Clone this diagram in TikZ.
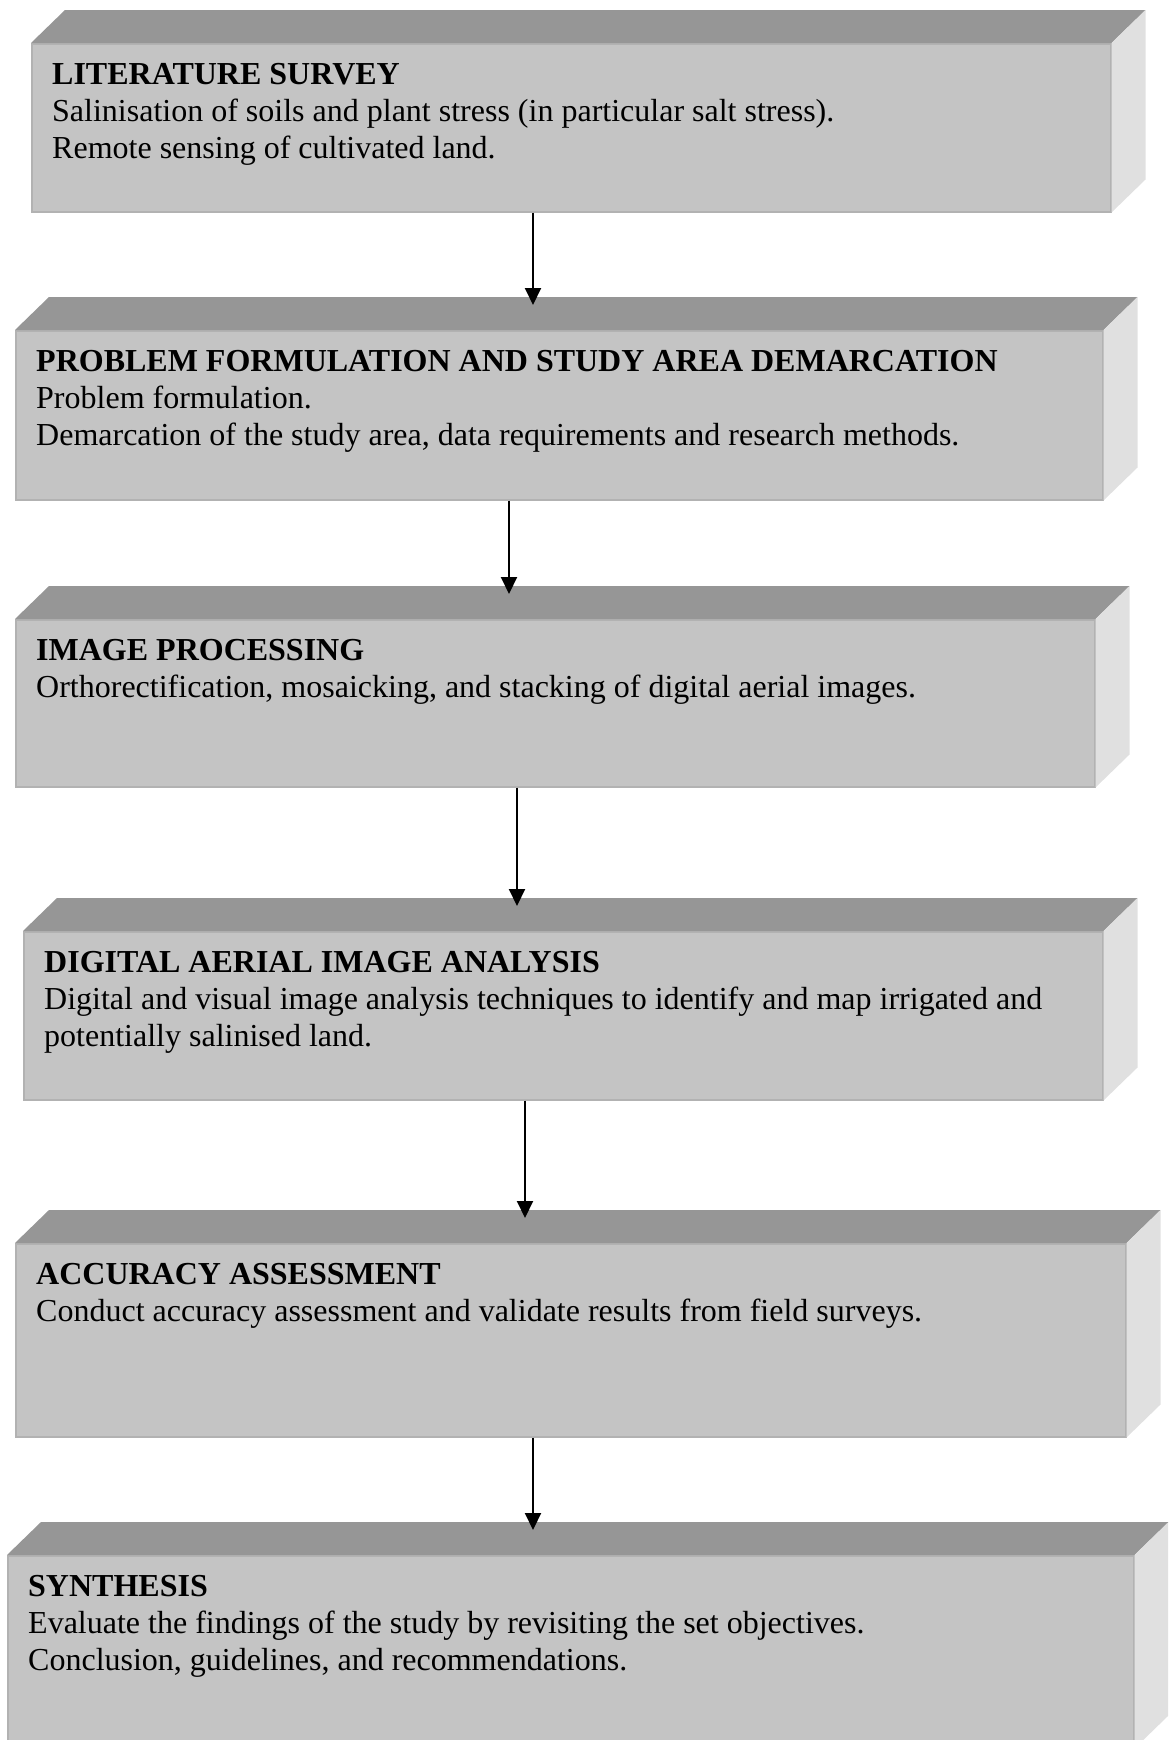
\documentclass[tikz,border=0pt]{standalone}
\usepackage{fontspec}
\setmainfont{Liberation Serif}
\usetikzlibrary{arrows.meta}

\definecolor{topgray}{HTML}{969696}
\definecolor{frontgray}{HTML}{C4C4C4}
\definecolor{sidegray}{HTML}{E0E0E0}
\definecolor{edgegray}{HTML}{B2B2B2}

\tikzset{
  frontface/.style={fill=frontgray, draw=edgegray, line width=1.5pt, inner sep=0pt, anchor=north west},
  topface/.style={fill=topgray},
  sideface/.style={fill=sidegray},
  stagetext/.style={anchor=north west, inner sep=0pt, align=left, font=\fontsize{32}{37}\selectfont},
  flow/.style={-{Triangle[length=17pt,width=16pt]}, line width=2pt, shorten >=25pt}
}

\begin{document}
\begin{tikzpicture}[x=1pt, y=-1pt]
  \useasboundingbox (0,0) rectangle (1168,1740);
  \clip (0,0) rectangle (1168,1740);

  % front faces
  \node[frontface, minimum width=1079pt, minimum height=168pt] (lit) at (31,43) {};
  \node[frontface, minimum width=1087pt, minimum height=169pt] (prob) at (15,330) {};
  \node[frontface, minimum width=1079pt, minimum height=167pt] (img) at (15,619) {};
  \node[frontface, minimum width=1079pt, minimum height=168pt] (anal) at (23,931) {};
  \node[frontface, minimum width=1110pt, minimum height=193pt] (acc) at (15,1243) {};
  \node[frontface, minimum width=1126pt, minimum height=192pt] (syn) at (7,1555) {};

  % top and side faces
  \foreach \b in {lit, prob, img, anal, acc, syn} {
    \fill[topface] (\b.north west) -- ++(34,-33) -- ([shift={(34,-33)}]\b.north east) -- (\b.north east) -- cycle;
    \fill[sideface] (\b.north east) -- ++(34,-33) -- ([shift={(34,-33)}]\b.south east) -- (\b.south east) -- cycle;
  }

  \node[stagetext] (lit-txt) at ([shift={(21,20)}]lit.north west)
    {\textbf{LITERATURE SURVEY}\\
     Salinisation of soils and plant stress (in particular salt stress).\\
     Remote sensing of cultivated land.};
  \node[stagetext] (prob-txt) at ([shift={(21,20)}]prob.north west)
    {\textbf{PROBLEM FORMULATION AND STUDY AREA DEMARCATION}\\
     Problem formulation.\\
     Demarcation of the study area, data requirements and research methods.};
  \node[stagetext] (img-txt) at ([shift={(21,20)}]img.north west)
    {\textbf{IMAGE PROCESSING}\\
     Orthorectification, mosaicking, and stacking of digital aerial images.};
  \node[stagetext] (anal-txt) at ([shift={(21,20)}]anal.north west)
    {\textbf{DIGITAL AERIAL IMAGE ANALYSIS}\\
     Digital and visual image analysis techniques to identify and map irrigated and\\
     potentially salinised land.};
  \node[stagetext] (acc-txt) at ([shift={(21,20)}]acc.north west)
    {\textbf{ACCURACY ASSESSMENT}\\
     Conduct accuracy assessment and validate results from field surveys.};
  \node[stagetext] (syn-txt) at ([shift={(21,20)}]syn.north west)
    {\textbf{SYNTHESIS}\\
     Evaluate the findings of the study by revisiting the set objectives.\\
     Conclusion, guidelines, and recommendations.};

  % arrows
  \draw[flow] (lit.south -| 533,0) -- (prob.north -| 533,0);
  \draw[flow] (prob.south -| 509,0) -- (img.north -| 509,0);
  \draw[flow] (img.south -| 517,0) -- (anal.north -| 517,0);
  \draw[flow] (anal.south -| 525,0) -- (acc.north -| 525,0);
  \draw[flow] (acc.south -| 533,0) -- (syn.north -| 533,0);
\end{tikzpicture}
\end{document}
